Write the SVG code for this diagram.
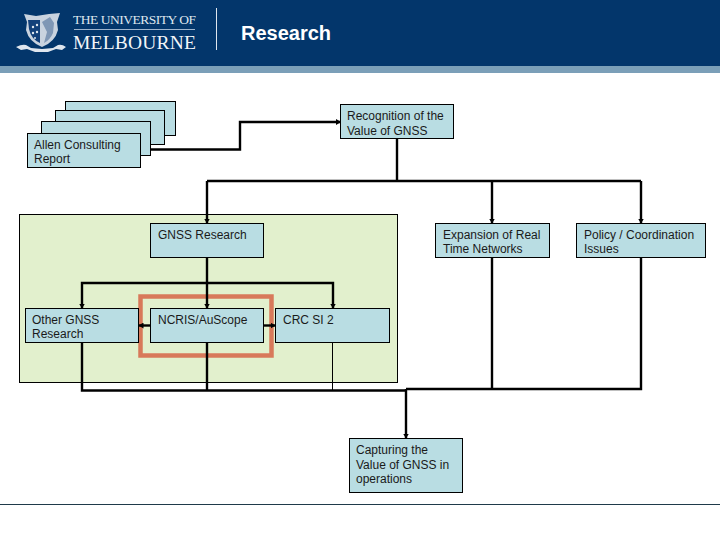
<svg xmlns="http://www.w3.org/2000/svg" width="720" height="540" viewBox="0 0 720 540">
<style>
.n{fill:#b9dde3;stroke:#000;stroke-width:1}
text{font-family:"Liberation Sans",Arial,sans-serif}
.t{font-size:12px;fill:#1a1a1a}
.c{fill:none;stroke:#000;stroke-width:2.4}
.thin{fill:none;stroke:#000;stroke-width:1}
.a{fill:none;stroke:#000;stroke-width:2.4;marker-end:url(#ah)}
</style>
<defs>
<marker id="ah" markerUnits="userSpaceOnUse" markerWidth="6" markerHeight="6" refX="5" refY="3" orient="auto"><path d="M0,0L5,3L0,6z" fill="#000"/></marker>
</defs>
<rect width="720" height="540" fill="#fff"/>
<g id="header">
<rect width="720" height="66" fill="#03366b"/>
<rect y="66" width="720" height="7" fill="#7b9fb8"/>
<g id="crest">
<path d="M24,14L36,16L49,14L60,13L57,22L58,30Q55,42 42,47Q29,42 26,30L27,22z" fill="#c9d3df"/>
<path d="M28,20L40,20L40,43Q31,39 29,29z" fill="#12407a"/>
<g fill="#dfe6ee"><circle cx="33" cy="27" r="1.2"/><circle cx="37" cy="25" r="1.2"/><circle cx="33" cy="33" r="1.2"/><circle cx="37" cy="32" r="1.2"/><circle cx="35" cy="38" r="1"/></g>
<path d="M42,22L50,17L54,23L53,33Q50,40 44,43L47,32z" fill="#7f97b5"/>
<path d="M16,47Q22,44 26,45L31,48L42,49L53,48L58,45Q62,44 66,47L62,50L56,49L48,52H35L27,49L21,50z" fill="#dfe6ee"/>
</g>
<text x="73" y="24" style="font-family:'Liberation Serif',serif" font-size="13.5" fill="#dfe6ee" textLength="123">THE UNIVERSITY OF</text>
<rect x="74" y="29" width="121" height="1" fill="#9fb6cf"/>
<text x="73" y="49" style="font-family:'Liberation Serif',serif" font-size="19.5" fill="#f2f5f8" textLength="123">MELBOURNE</text>
<rect x="216" y="8" width="1" height="42" fill="#dfe6ee"/>
<text x="241" y="40" font-size="20" font-weight="700" fill="#fff">Research</text>
</g>
<rect id="research-area" x="19.5" y="214.5" width="378" height="168" fill="#e2f0cd" stroke="#000"/>
<line x1="0" y1="504.5" x2="720" y2="504.5" stroke="#1f3a4a" stroke-width="1"/>
<rect id="highlight" x="140.5" y="296.5" width="131" height="59" fill="none" stroke="#d8795a" stroke-width="4.5"/>
<g id="connectors">
<path class="a" d="M140,149.5H240V122H341"/>
<path class="c" d="M397,138V181"/>
<path class="c" d="M207,181H641"/>
<path class="a" d="M207,181V223.5"/>
<path class="a" d="M492,181V223.5"/>
<path class="a" d="M641,181V223.5"/>
<path class="a" d="M207,257.5V308.5"/>
<path class="a" d="M207,283H82V308.5"/>
<path class="a" d="M207,283H333V308.5"/>
<path class="a" d="M150.5,325.5H138.5"/>
<path class="a" d="M263.5,325.5H275.5"/>
<path class="c" d="M82,342.5V390.5H406"/>
<path class="c" d="M207,342.5V390.5"/>
<path class="thin" d="M332.5,342.5V390"/>
<path class="c" d="M492,257.5V389"/>
<path class="c" d="M641,257.5V389H406"/>
<path class="a" d="M406,389V438.5"/>
</g>
<g id="report-stack">
<rect class="n" x="65.5" y="101.5" width="110" height="34"/>
<rect class="n" x="55.5" y="110.5" width="109" height="34"/>
<rect class="n" x="41.5" y="121.5" width="109" height="34"/>
</g>
<g id="allen"><rect class="n" x="27.5" y="133.5" width="113" height="34"/><text class="t" x="34" y="149">Allen Consulting</text><text class="t" x="34" y="163">Report</text></g>
<g id="recognition"><rect class="n" x="340.5" y="104.5" width="113" height="34"/><text class="t" x="347" y="120">Recognition of the</text><text class="t" x="347" y="135">Value of GNSS</text></g>
<g id="gnss-research"><rect class="n" x="150.5" y="223.5" width="113" height="34"/><text class="t" x="158" y="239">GNSS Research</text></g>
<g id="expansion"><rect class="n" x="435.5" y="223.5" width="114" height="34"/><text class="t" x="443" y="239">Expansion of Real</text><text class="t" x="443" y="253">Time Networks</text></g>
<g id="policy"><rect class="n" x="576.5" y="223.5" width="129" height="34"/><text class="t" x="584" y="239">Policy / Coordination</text><text class="t" x="584" y="253">Issues</text></g>
<g id="other"><rect class="n" x="25.5" y="308.5" width="113" height="34"/><text class="t" x="32" y="324">Other GNSS</text><text class="t" x="32" y="338">Research</text></g>
<g id="ncris"><rect class="n" x="150.5" y="308.5" width="113" height="34"/><text class="t" x="158" y="324">NCRIS/AuScope</text></g>
<g id="crc"><rect class="n" x="275.5" y="308.5" width="114" height="34"/><text class="t" x="283" y="324">CRC SI 2</text></g>
<g id="capturing"><rect class="n" x="349.5" y="438.5" width="113" height="54"/><text class="t" x="356" y="454">Capturing the</text><text class="t" x="356" y="469">Value of GNSS in</text><text class="t" x="356" y="483">operations</text></g>
</svg>
